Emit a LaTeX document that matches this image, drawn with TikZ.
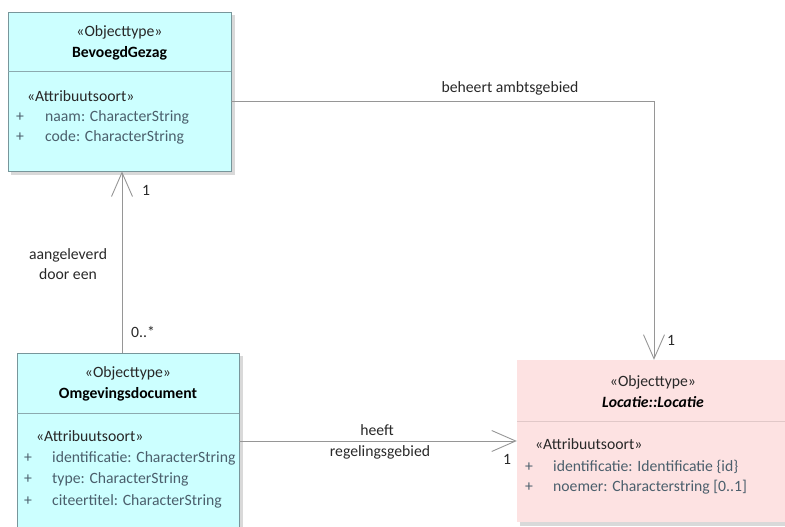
\documentclass[tikz,border=0pt]{standalone}
\usepackage{fontspec}
\setmainfont{Carlito}
\usetikzlibrary{arrows.meta,calc}
\definecolor{cyanfill}{RGB}{204,255,255}
\definecolor{pinkfill}{RGB}{253,226,226}
\definecolor{boxline}{RGB}{120,150,155}
\definecolor{divline}{RGB}{140,170,175}
\definecolor{pinkdiv}{RGB}{225,200,200}
\definecolor{attrcol}{RGB}{75,95,108}
\definecolor{txt}{RGB}{40,40,40}
\definecolor{conn}{RGB}{150,150,150}
\newcommand{\fs}{\fontsize{15.7}{18}\selectfont}
\tikzset{
  umlbox/.style={draw=boxline, line width=0.8pt, rectangle, inner sep=0pt},
  shadowbox/.style={fill=black!25, draw=none, opacity=0.6},
  stereo/.style={font=\fs, text=txt, anchor=mid, inner sep=0pt, yshift=-2pt},
  cname/.style={font=\fs\bfseries, text=black, anchor=mid, inner sep=0pt, yshift=-2pt},
  attrst/.style={font=\fs, text=txt, anchor=mid west, inner sep=0pt, yshift=-2pt},
  attr/.style={font=\fs, text=attrcol, anchor=mid west, inner sep=0pt, yshift=-2pt},
  plus/.style={font=\fs, text=attrcol, anchor=mid, inner sep=0pt, yshift=-2pt},
  lbl/.style={font=\fs, text=txt, anchor=mid, inner sep=0pt, yshift=-2pt},
  assoc/.style={draw=conn, line width=0.9pt, -{Straight Barb[length=24pt,width=21pt,line width=0.9pt]}},
}
\begin{document}
\begin{tikzpicture}[x=1pt,y=-1pt]
\useasboundingbox (0,0) rectangle (785,527);
% shadows
\fill[shadowbox] (11,15) rectangle (235,175);
\fill[shadowbox] (20,356) rectangle (243,540);
\fill[shadowbox] (520,363) rectangle (795,526);
% BevoegdGezag
\node[umlbox, fill=cyanfill, minimum width=223pt, minimum height=159pt] (BG) at (119.5,91.5) {};
\draw[divline, line width=0.8pt] (8,71) -- (231,71);
\node[stereo] (bgst) at (119.5,32) {«Objecttype»};
\node[cname] (bgname) at (119.5,53) {BevoegdGezag};
\node[attrst] (bgat) at (27,97) {«Attribuutsoort»};
\node[plus] (bgp1) at (20,117) {+};
\node[attr] (bga1) at (45,117) {naam: CharacterString};
\node[plus] (bgp2) at (20,137) {+};
\node[attr] (bga2) at (45,137) {code: CharacterString};
% Omgevingsdocument
\node[umlbox, fill=cyanfill, minimum width=222pt, minimum height=187pt] (OD) at (128,446.5) {};
\draw[divline, line width=0.8pt] (17,413) -- (239,413);
\node[stereo] (odst) at (128,373) {«Objecttype»};
\node[cname] (odname) at (128,394) {Omgevingsdocument};
\node[attrst] (odat) at (36,437) {«Attribuutsoort»};
\node[plus] (odp1) at (28,458) {+};
\node[attr] (oda1) at (52,458) {identificatie: CharacterString};
\node[plus] (odp2) at (28,479) {+};
\node[attr] (oda2) at (52,479) {type: CharacterString};
\node[plus] (odp3) at (28,501) {+};
\node[attr] (oda3) at (52,501) {citeertitel: CharacterString};
% Locatie
\node[draw=none, fill=pinkfill, rectangle, inner sep=0pt, minimum width=273pt, minimum height=162pt] (LO) at (653.5,441) {};
\draw[pinkdiv, line width=0.8pt] (517,421) -- (790,421);
\node[stereo] (lost) at (653,382) {«Objecttype»};
\node[cname, font=\fs\bfseries\itshape] (loname) at (653,403) {Locatie::Locatie};
\node[attrst] (loat) at (535,445) {«Attribuutsoort»};
\node[plus] (lop1) at (529,467) {+};
\node[attr] (loa1) at (553,467) {identificatie: Identificatie \{id\}};
\node[plus] (lop2) at (529,487) {+};
\node[attr] (loa2) at (553,487) {noemer: Characterstring [0..1]};
% connectors
\coordinate (c1) at (654,101);
\draw[assoc] (BG.east |- c1) -- (c1) -- (LO.north -| c1);
\coordinate (c2) at (122,300);
\draw[assoc] (OD.north -| c2) -- (BG.south -| c2);
\coordinate (c3) at (300,441);
\draw[assoc] (OD.east |- c3) -- (LO.west |- c3);
% labels
\node[lbl] (l1) at (510,88) {beheert ambtsgebied};
\node[lbl] (m1) at (671,341) {1};
\node[lbl] (m2) at (146,191) {1};
\node[lbl] (m3) at (143,333) {0..*};
\node[lbl] (l2a) at (68,255) {aangeleverd};
\node[lbl] (l2b) at (68,275) {door een};
\node[lbl] (l3a) at (377,431) {heeft};
\node[lbl] (l3b) at (380,452) {regelingsgebied};
\node[lbl] (m4) at (507,460) {1};
\end{tikzpicture}
\end{document}
